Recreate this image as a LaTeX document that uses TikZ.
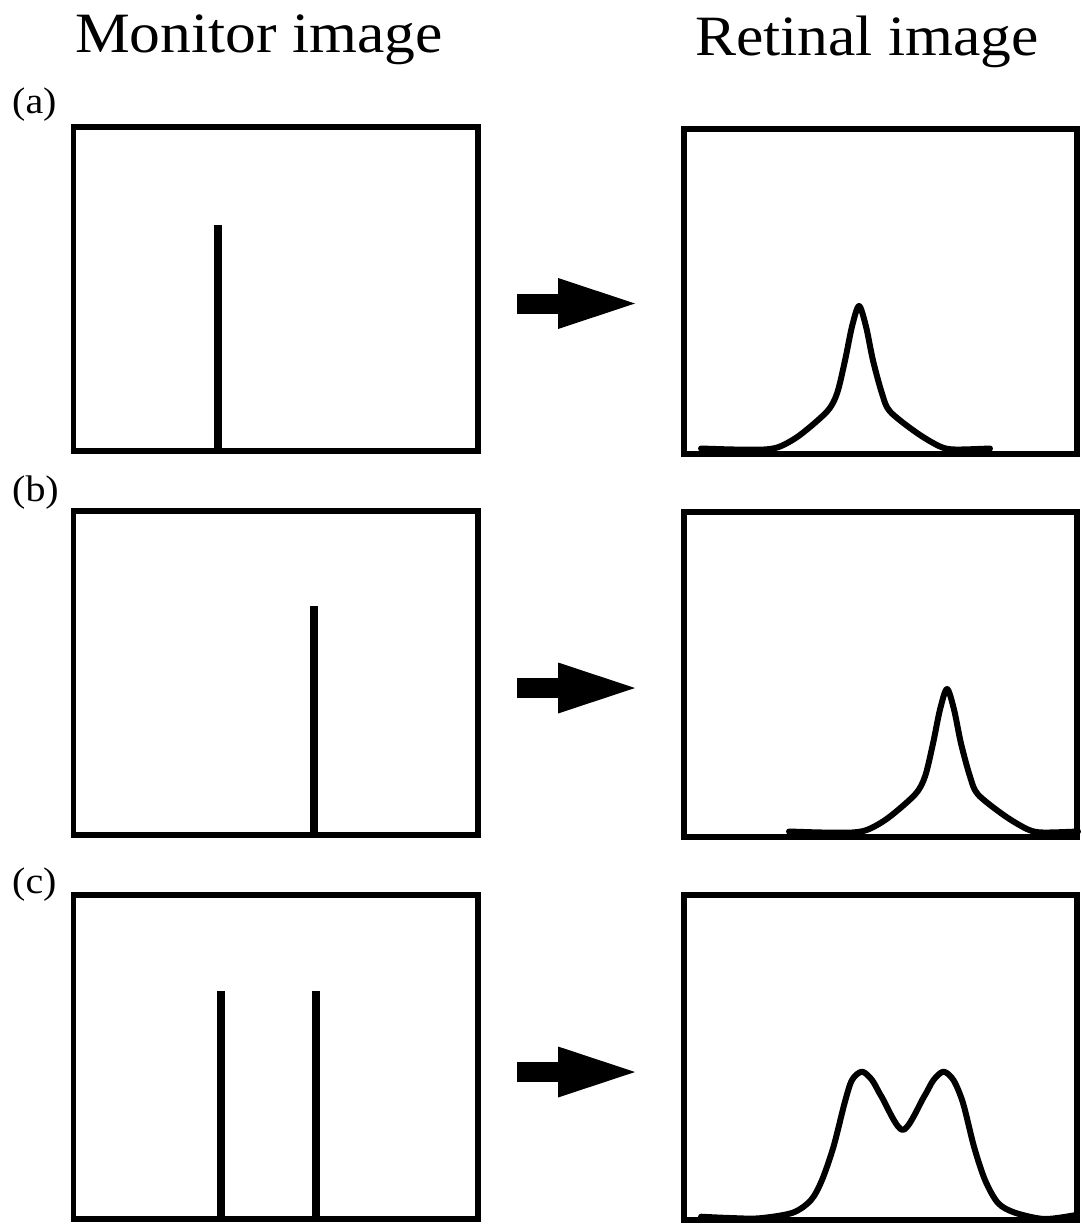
\documentclass[tikz,border=0pt]{standalone}
\usepackage{fontspec}
\setmainfont{Liberation Serif}[FakeStretch=1.08]
\usepackage{tikz}
\usetikzlibrary{positioning,arrows.meta}

\tikzset{
  frame/.style={draw, rectangle, line width=5.7pt, inner sep=0pt},
  monframe/.style={frame, minimum width=404.5pt, minimum height=324pt},
  retframe/.style={frame, minimum width=393pt, minimum height=325pt},
  bar/.style={line width=8pt},
  trace/.style={line width=6pt, line join=round, line cap=round},
  fatarrow/.style={line width=20pt, -{Triangle[length=77pt, width=51pt, line width=0pt]}},
  title/.style={anchor=base west, inner sep=0pt, font=\fontsize{57}{62}\selectfont},
  tag/.style={anchor=base west, inner sep=0pt, font=\fontsize{37}{40}\selectfont},
  peak/.pic={
    \draw[trace] plot[smooth, tension=0.5] coordinates {
      (-158,-1) (-125,0) (-95,0) (-79,-3) (-59,-14.5) (-32,-38) (-22,-56)
      (-14,-89) (-7,-123) (0,-143.5) (7,-123) (14,-89) (23,-56) (31,-38)
      (58,-16.5) (81,-3) (96,0) (131,-1)};
  }
}

\begin{document}
\begin{tikzpicture}[x=1pt, y=-1pt]
  \useasboundingbox (0,0) rectangle (1081,1225);
  % column titles
  \node[title] (montitle) at (75,53) {Monitor image};
  \node[title] (rettitle) at (695,56) {Retinal image};
  % row tags
  \node[tag] (taga) at (12,114) {(a)};
  \node[tag] (tagb) at (12,501) {(b)};
  \node[tag] (tagc) at (12,893) {(c)};
  % monitor frames
  \node[monframe] (mona) at (275.75,289) {};
  \node[monframe] (monb) at (275.75,673) {};
  \node[monframe] (monc) at (275.75,1057) {};
  % retina frames
  \node[retframe] (reta) at (880.5,291.5) {};
  \node[retframe] (retb) at (880.5,674.5) {};
  \node[retframe] (retc) at (880.5,1057.5) {};
  % lines shown on the monitor
  \draw[bar] (218,225) -- (218,451);
  \draw[bar] (313.5,606) -- (313.5,835);
  \draw[bar] (220.5,991) -- (220.5,1219);
  \draw[bar] (316,991) -- (316,1219);
  % arrows
  \coordinate (froma) at (517,303.5);
  \coordinate (toa) at (635,303.5);
  \coordinate (fromb) at (517,688);
  \coordinate (tob) at (635,688);
  \coordinate (fromc) at (517,1072);
  \coordinate (toc) at (635,1072);
  \draw[fatarrow] (froma) -- (toa);
  \draw[fatarrow] (fromb) -- (tob);
  \draw[fatarrow] (fromc) -- (toc);
  % retinal profiles
  \pic at (859,449.5) {peak};
  \pic at (947,832.5) {peak};
  \draw[trace] plot[smooth, tension=0.5] coordinates {
    (701,1216.7) (730,1218) (759,1218.3) (792.7,1212.7) (811,1200) (822,1180)
    (833.5,1146.7) (844.6,1103) (852,1080) (862,1071.7) (872,1080) (881.6,1096.7)
    (902.7,1130) (924,1096.7) (933.5,1080) (943.5,1071.7) (953.4,1080) (963,1103)
    (974,1146.7) (985,1180) (998,1203) (1015,1212.7) (1044.6,1219) (1076,1215)};
\end{tikzpicture}
\end{document}
